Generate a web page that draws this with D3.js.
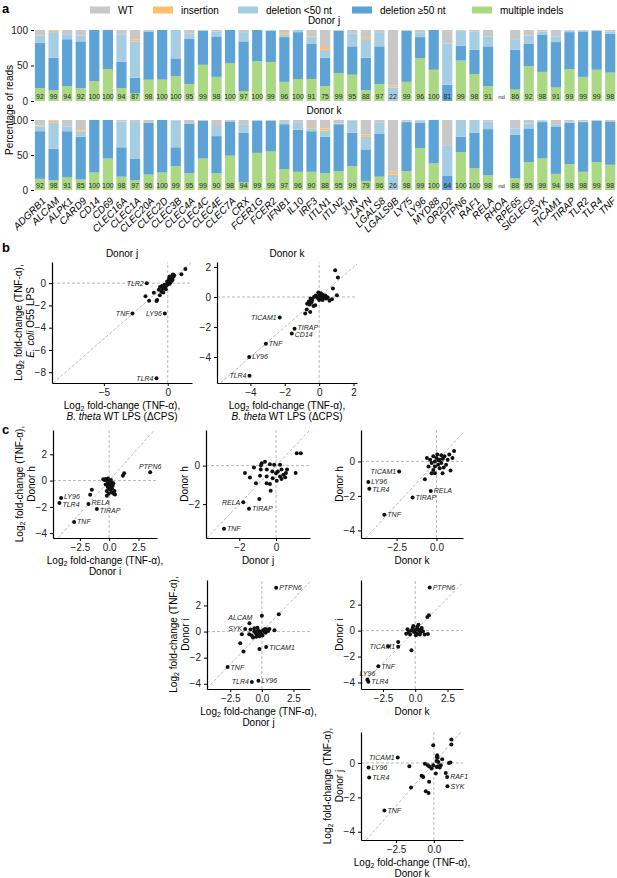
<!DOCTYPE html>
<html>
<head>
<meta charset="utf-8">
<script src="https://cdn.jsdelivr.net/npm/d3@7"></script>
<style>
  body { margin: 0; background: #fff; }
  svg { font-family: "Liberation Sans", Arial, sans-serif; }
</style>
</head>
<body>
<svg id="fig" width="617" height="878"></svg>
<script>
// ---------- panel a data ----------
const genes = ['ADGRB1','ALCAM','ALPK1','CARD9','CD14','CD69','CLEC16A','CLEC1A','CLEC20A','CLEC2D',
  'CLEC3B','CLEC4A','CLEC4C','CLEC4E','CLEC7A','CRX','FCER1G','FCER2','IFNB1','IL10',
  'IRF3','ITLN1','ITLN2','JUN','LAYN','LGALS8','LGALS9B','LY75','LY96','MYD88',
  'OR2D2','PTPN6','RAF1','RELA','RHOA','RPE65','SIGLEC8','SYK','TICAM1','TIRAP',
  'TLR2','TLR4','TNF'];
const outcomes = ['multiple indels','deletion ≥50 nt','deletion <50 nt','insertion','WT'];
const legendOrder = ['WT','insertion','deletion <50 nt','deletion ≥50 nt','multiple indels'];

// % of reads per gene: [multiple indels, deletion >=50, deletion <50, insertion, WT]
const donorJ = [
  [18,64,10,0,8],[15,46,36,2,1],[21,66,7,0,6],[18,66,8,0,8],[28,72,0,0,0],[45,55,0,0,0],
  [18,37,39,0,6],[11,22,51,3,13],[30,68,0,0,2],[30,70,0,0,0],[35,25,40,0,0],[24,64,7,0,5],
  [51,48,0,0,1],[34,57,7,0,2],[53,47,0,0,0],[14,70,13,0,3],[56,44,0,0,0],[55,44,0,0,1],
  [27,63,4,2,4],[31,66,3,0,0],[31,50,9,1,9],[21,40,11,4,24],[39,60,0,0,1],[37,40,18,0,5],
  [15,46,25,3,11],[24,53,20,0,3],[0,0,19,3,78],[27,72,0,0,1],[60,30,6,0,4],[44,56,0,0,0],
  [0,23,58,0,19],[57,21,21,0,1],[38,34,26,0,2],[21,56,14,0,9],null,[16,56,14,0,14],
  [49,32,11,0,8],[41,52,5,0,2],[19,64,8,0,9],[45,52,2,0,1],[34,64,1,0,1],[44,55,0,0,1],
  [40,55,3,0,2]];
const donorK = [
  [16,68,7,1,8],[14,45,37,3,1],[18,66,7,0,9],[15,61,7,2,15],[25,75,0,0,0],[45,55,0,0,0],
  [19,42,37,0,2],[14,31,52,0,3],[22,74,0,0,4],[25,75,0,0,0],[34,27,38,0,1],[24,71,0,0,5],
  [45,54,0,0,1],[24,53,13,0,10],[49,49,0,0,2],[11,71,12,0,6],[53,46,0,0,1],[55,44,0,0,1],
  [30,64,3,0,3],[26,60,10,0,4],[26,58,4,2,10],[24,52,9,3,12],[27,67,1,0,5],[34,48,17,0,1],
  [13,45,18,3,21],[19,61,16,0,4],[0,0,22,4,74],[27,70,1,0,2],[60,36,3,0,1],[38,62,0,0,0],
  [0,20,44,0,36],[54,22,24,0,0],[31,51,18,0,0],[21,66,11,0,2],null,[17,62,9,0,12],
  [40,48,7,0,5],[45,52,2,0,1],[23,67,4,0,6],[37,59,2,0,2],[26,71,1,0,2],[40,59,0,0,1],
  [36,62,0,0,2]];
const editedJ = [92,99,94,92,100,100,94,87,98,100,100,95,99,98,100,97,100,99,96,100,
  91,75,99,95,88,97,22,99,96,100,81,99,98,91,null,86,92,98,91,99,99,99,98];
const editedK = [92,98,91,85,100,100,98,97,96,100,99,95,99,90,98,94,99,99,97,96,
  90,88,95,99,79,96,26,98,99,100,64,100,100,98,null,88,95,99,94,98,98,99,98];

// ---------- panel b data: log2 fold-change (TNF-a) ----------
// x = B. theta WT LPS (dCPS), y = E. coli O55 LPS
const bJ = [[-1.74,-1.17],[-1.46,-1.58],[-1.09,-0.87],[-0.83,-1.52],[-0.62,-1.08],[-0.88,-1.6],
  [-0.49,-0.78],[-0.4,-0.5],[-0.35,-0.85],[-0.3,-0.4],[-0.2,-0.3],[-0.15,-0.55],[-0.1,-0.2],
  [0,-0.1],[0.05,0.1],[-0.25,-0.15],[0.1,0.25],[0.15,-0.05],[0.2,0.3],[0.25,0.45],[0.3,0.6],
  [0.35,0.5],[0.41,0.78],[0.45,0.6],[0.3,0.2],[0.1,0.4],[-0.05,0.15],[0.2,0.05],[-0.6,-0.35],
  [-0.45,-0.25],[1.07,0.81],[1.38,1.26],[0.5,0.7],[0.15,0.6],[-0.7,-0.6],[0.38,0.3]];
const bJLabels = [['TLR2',-1.64,0.0,'l'],['TNF',-2.76,-2.72,'l'],['LY96',-0.23,-2.72,'l'],['TLR4',-0.88,-8.55,'l']];
const bK = [[0.93,1.78],[1.09,1.29],[0.8,0.56],[1.03,0.11],[0.74,-0.15],[-0.33,-0.6],[-0.72,-0.84],
  [-0.81,-1.1],[-0.52,-1.0],[-0.23,-0.55],[-0.6,-0.3],[-0.5,-0.1],[-0.4,-0.2],[-0.3,0.0],[-0.2,0.1],
  [-0.1,-0.05],[0,0.1],[0.05,0.2],[0.1,-0.1],[0.15,0.05],[0.2,0.15],[0.25,-0.05],[0.3,0.05],
  [0.35,0.1],[0.4,-0.1],[0.45,0.0],[-0.05,0.3],[0.1,0.25],[0.5,-0.05],[-0.7,-0.45],[-0.55,-0.5],
  [-0.45,-0.35],[0.0,-0.2],[0.2,-0.2],[0.6,-0.25]];
const bKLabels = [['TICAM1',-2.29,-1.37,'l'],['TIRAP',-1.43,-2.11,'r'],['CD14',-1.59,-2.44,'r'],
  ['TNF',-3.1,-3.11,'r'],['LY96',-4.07,-4.0,'r'],['TLR4',-4.05,-5.24,'l']];

// ---------- panel c data: donor vs donor ----------
const hVsI = [[1.28,0.56],[1.17,0.36],[-1.48,-0.7],[-1.62,-1.08],[-0.2,-1.16],[-0.5,0.1],[-0.4,0.05],
  [-0.3,0.12],[-0.2,0.0],[-0.1,-0.1],[0,-0.2],[0.1,-0.3],[0.2,-0.15],[0.3,-0.4],[-0.1,-0.5],[0,-0.6],
  [0.1,-0.7],[-0.2,-0.8],[0.2,-0.9],[0.4,-1.0],[0.5,-1.05],[-0.05,-1.0],[0.15,0.05],[0.35,-0.2],
  [-0.3,-0.3],[0.05,-0.45],[0.25,-0.6],[-0.15,-0.35],[0.45,-0.8],[-0.1,0.15]];
const hVsILabels = [['PTPN6',3.5,0.64,'t'],['LY96',-4.1,-1.33,'r'],['TLR4',-4.24,-1.71,'r'],
  ['RELA',-1.77,-1.79,'r'],['TIRAP',-1.05,-2.17,'r'],['TNF',-2.99,-3.15,'r']];
const hVsJ = [[1.13,0.64],[1.35,0.64],[-0.78,0.12],[-0.82,0],[-0.33,0.07],[0.22,0.04],[-1.69,-0.39],
  [-1.42,-0.62],[-0.87,-0.53],[-0.51,-0.57],[1.07,-0.39],[-1.09,-0.91],[-0.83,-0.2],[-0.51,-0.91],
  [-0.33,-0.96],[-0.18,-0.65],[0.04,-0.79],[0.22,-0.57],[0.4,-0.48],[0.54,-0.39],[-0.91,-1.74],
  [-0.29,-1.3],[-0.1,0.05],[0.1,-0.3],[0.3,-0.2],[0.0,-0.4],[-0.5,-0.2],[-0.2,-0.3],[0.5,-0.6],
  [0.6,-0.2],[-1.2,-0.1],[0.3,-0.7],[-0.6,0.2]];
const hVsJLabels = [['RELA',-1.78,-1.9,'l'],['TIRAP',-1.47,-2.24,'r'],['TNF',-2.83,-3.28,'r']];
const hVsK = [[-0.31,-0.68],[-0.73,-1.03],[-0.1,-0.68],[0.38,-0.68],[0.88,-0.53],[-0.6,0.2],[-0.4,0.1],
  [-0.3,-0.1],[-0.2,0.3],[-0.1,0.0],[0,0.2],[0.1,-0.2],[0.2,0.1],[0.3,-0.1],[0.4,0.15],[0.5,0.3],
  [0.6,-0.2],[0.7,0.1],[0.8,0.4],[1.1,0.6],[0.2,-0.4],[-0.1,-0.3],[0.05,0.4],[-0.5,-0.3],[0.45,-0.35],
  [1.0,0.2],[-0.2,-0.5],[0.3,0.35],[0.15,0.05]];
const hVsKLabels = [['TICAM1',-2.34,-0.59,'l'],['LY96',-4.27,-1.2,'r'],['TLR4',-4.21,-1.59,'r'],
  ['TNF',-3.27,-3.09,'r'],['RELA',-0.36,-1.71,'r'],['TIRAP',-1.5,-2.09,'r']];
const iVsJ = [[0,1.22],[1.34,1.33],[-1.58,-0.2],[-0.19,-1.34],[-1.71,-0.89],[-1.45,-1.53],[-1.0,-0.2],
  [-0.8,-0.3],[-0.6,0.0],[-0.5,-0.1],[-0.4,-0.2],[-0.3,0.1],[-0.2,-0.1],[-0.1,0.0],[0,-0.2],[0.1,0.1],
  [0.2,0.0],[0.3,-0.1],[0.4,0.15],[0.5,0.05],[-0.7,-0.45],[-0.45,-0.4],[-0.2,-0.35],[0.05,-0.3],
  [0.25,0.2],[1.0,0.1],[-0.9,0.15],[-0.6,0.25],[-0.35,0.3],[0.6,0.2]];
const iVsJLabels = [['PTPN6',1.13,3.36,'r'],['ALCAM',-0.98,0.64,'tl'],['SYK',-1.32,0.2,'l'],
  ['TICAM1',0.34,-1.19,'r'],['TNF',-2.71,-2.72,'r'],['TLR4',-0.79,-3.86,'l'],['LY96',-0.27,-3.76,'r']];
const iVsK = [[1.06,1.18],[0.94,1.05],[-2.09,-1.21],[-0.29,-1.52],[-1.32,-0.87],[-0.6,0.1],[-0.5,-0.1],
  [-0.3,0],[-0.2,0.2],[-0.1,-0.1],[0,0.05],[0.1,-0.2],[0.2,0.1],[0.3,0],[0.4,-0.15],[0.5,0.2],
  [0.6,-0.05],[0.73,-0.3],[0.98,-0.26],[-0.4,-0.3],[0.15,0.3],[0.35,-0.3],[-0.15,0.35],[0.05,-0.35],
  [0.25,0.45],[-0.7,-0.25],[0.45,0.1]];
const iVsKLabels = [['PTPN6',1.12,3.33,'r'],['TICAM1',-1.32,-1.25,'l'],['TNF',-2.86,-2.74,'r'],
  ['LY96',-3.7,-3.77,'t'],['TLR4',-3.63,-3.95,'r']];
const jVsK = [[-0.04,1.03],[1.16,1.36],[1.16,1.07],[-1.62,-0.19],[-1.51,-1.43],[-0.59,-0.04],
  [-0.4,-0.13],[-0.3,-0.2],[-0.81,-0.75],[-0.7,-0.81],[-0.31,-1.1],[-0.53,-1.64],[-0.35,-1.74],
  [0.13,-0.61],[0.18,-0.23],[0.22,0.45],[0.2,0.35],[0.18,0.12],[0.28,-0.19],[0.39,-0.27],
  [0.55,0.21],[0.79,-0.58],[1.0,0],[1.1,0.02],[-0.04,-0.13],[-0.15,-0.32],[0.46,-0.13],[0.3,0.05],
  [0.25,0.3]];
const jVsKLabels = [['TICAM1',-2.39,0.31,'l'],['LY96',-4.32,-0.27,'r'],['TLR4',-4.28,-0.85,'r'],
  ['RAF1',0.88,-0.81,'r'],['SYK',0.9,-1.35,'r'],['TNF',-3.27,-2.76,'r']];

// ---------- drawing ----------
const svg = d3.select('#fig');
const colors = {'WT':'#c8c8c8','insertion':'#fdbf6f','deletion <50 nt':'#a6cee3',
  'deletion ≥50 nt':'#5ea3d5','multiple indels':'#abd882'};

// panel letters
[['a',13],['b',252],['c',434]].forEach(([t, yy]) => {
  svg.append('text').attr('x', 2).attr('y', yy).text(t)
    .attr('font-size', 13).attr('font-weight', 'bold');
});

// legend
const legX = [90, 153, 238, 352, 472];
legendOrder.forEach((k, i) => {
  svg.append('rect').attr('x', legX[i]).attr('y', 6.5).attr('width', 20).attr('height', 7)
    .attr('fill', colors[k]);
  svg.append('text').attr('x', legX[i] + 28).attr('y', 10).attr('dy', '0.35em')
    .attr('font-size', 10).text(k);
});

const x = d3.scaleBand().domain(genes).range([33.2, 617]).paddingInner(0.25).paddingOuter(0.125);

function barPanel(data, edited, top, bottom, title) {
  const y = d3.scaleLinear().domain([0, 100]).range([bottom, top]);
  const g = svg.append('g');
  const rows = genes.map((gn, i) => {
    const o = {gene: gn};
    outcomes.forEach((k, j) => o[k] = data[i] ? data[i][j] : 0);
    return o;
  });
  const stacked = d3.stack().keys(outcomes)(rows);
  g.selectAll('g.layer').data(stacked).join('g').attr('class', 'layer')
    .attr('fill', d => colors[d.key])
    .selectAll('rect').data(d => d).join('rect')
    .attr('x', d => x(d.data.gene))
    .attr('width', x.bandwidth())
    .attr('y', d => y(d[1]))
    .attr('height', d => y(d[0]) - y(d[1]));
  g.selectAll('text.pct').data(genes).join('text').attr('class', 'pct')
    .attr('x', d => x(d) + x.bandwidth() / 2)
    .attr('y', bottom - 4)
    .attr('text-anchor', 'middle').attr('dy', '0.35em')
    .attr('font-size', (d, i) => edited[i] == null ? 6 : 7)
    .attr('fill', '#2a2a2a')
    .text((d, i) => edited[i] == null ? 'nd' : edited[i]);
  const ax = g.append('g').attr('transform', `translate(34,0)`)
    .call(d3.axisLeft(y).tickValues([0, 50, 100]).tickSize(3));
  ax.select('.domain').remove();
  ax.selectAll('text').attr('font-size', 10).attr('fill', '#222');
  svg.append('text').attr('x', 324).attr('y', top - 6).attr('text-anchor', 'middle')
    .attr('font-size', 10).text(title);
}
barPanel(donorJ, editedJ, 30, 101, 'Donor j');
barPanel(donorK, editedK, 120, 190, 'Donor k');

svg.append('text').attr('transform', 'translate(9,110) rotate(-90)')
  .attr('text-anchor', 'middle').attr('dy', '0.35em').attr('font-size', 10).text('Percentage of reads');

svg.append('g').selectAll('text').data(genes).join('text')
  .attr('transform', d => `translate(${x(d) + x.bandwidth() / 2 + 4},199) rotate(-45)`)
  .attr('text-anchor', 'end').attr('dy', '0.35em')
  .attr('font-size', 10).attr('font-style', 'italic').text(d => d);

// ---------- scatter helpers ----------
const LOG2 = [{t: 'Log'}, {t: '2', sub: true}, {t: ' fold-change (TNF-α),'}];

function richText(sel, parts) {
  parts.forEach(p => {
    const ts = sel.append('tspan').text(p.t);
    if (p.sub) ts.attr('font-size', 7).attr('baseline-shift', '-25%');
    if (p.it) ts.attr('font-style', 'italic');
  });
}

// push apart gene labels that sit on top of each other
function declutter(nodes) {
  for (let pass = 0; pass < 4; pass++) {
    for (let i = 0; i < nodes.length; i++) {
      for (let j = i + 1; j < nodes.length; j++) {
        const a = nodes[i].getBBox(), b = nodes[j].getBBox();
        const ox = Math.min(a.x + a.width, b.x + b.width) - Math.max(a.x, b.x);
        const oy = Math.min(a.y + a.height, b.y + b.height) - Math.max(a.y, b.y);
        if (ox > 0 && oy > 0) {
          const shift = (oy + 0.4) / 2;
          const [up, dn] = a.y < b.y ? [nodes[i], nodes[j]] : [nodes[j], nodes[i]];
          up.setAttribute('y', +up.getAttribute('y') - shift);
          dn.setAttribute('y', +dn.getAttribute('y') + shift);
        }
      }
    }
  }
}

function scatter(cfg) {
  const g = svg.append('g');
  const sx = d3.scaleLinear().domain(cfg.xd).range(cfg.xr);
  const sy = d3.scaleLinear().domain(cfg.yd).range(cfg.yr);
  const dash = {stroke: '#b0b0b0', 'stroke-width': 0.9, 'stroke-dasharray': '3,2'};
  const lo = Math.max(cfg.xd[0], cfg.yd[0]), hi = Math.min(cfg.xd[1], cfg.yd[1]);
  [[sx(0), sy.range()[0], sx(0), sy.range()[1]],
   [sx.range()[0], sy(0), sx.range()[1], sy(0)],
   [sx(lo), sy(lo), sx(hi), sy(hi)]].forEach(l => {
    const ln = g.append('line').attr('x1', l[0]).attr('y1', l[1]).attr('x2', l[2]).attr('y2', l[3]);
    Object.entries(dash).forEach(([k, v]) => ln.attr(k, v));
  });
  const xa = g.append('g').attr('transform', `translate(0,${cfg.yr[0]})`)
    .call(d3.axisBottom(sx).tickValues(cfg.xt).tickFormat(d3.format(cfg.xf)).tickSize(3).tickSizeOuter(0));
  const ya = g.append('g').attr('transform', `translate(${cfg.xr[0]},0)`)
    .call(d3.axisLeft(sy).tickValues(cfg.yt).tickFormat(d3.format('d')).tickSize(3).tickSizeOuter(0));
  [xa, ya].forEach(a => {
    a.select('.domain').attr('stroke-width', 1.2);
    a.selectAll('text').attr('font-size', 10).attr('fill', '#222');
  });
  const all = cfg.pts.concat(cfg.labels.map(l => [l[1], l[2]]));
  g.selectAll('circle').data(all).join('circle')
    .attr('cx', d => sx(d[0])).attr('cy', d => sy(d[1])).attr('r', 2).attr('fill', '#111');
  const nodes = [];
  cfg.labels.forEach(([name, vx, vy, pos]) => {
    const t = g.append('text').attr('font-size', 7).attr('font-style', 'italic')
      .attr('fill', '#222').attr('dy', '0.35em').text(name);
    let px = sx(vx), py = sy(vy);
    if (pos === 'r') t.attr('x', px + 3).attr('y', py).attr('text-anchor', 'start');
    else if (pos === 'l') t.attr('x', px - 3).attr('y', py).attr('text-anchor', 'end');
    else if (pos === 't') t.attr('x', px).attr('y', py - 6).attr('text-anchor', 'middle');
    else t.attr('x', px + 3).attr('y', py - 6).attr('text-anchor', 'end');
    nodes.push(t.node());
  });
  declutter(nodes);
  const cx = (cfg.xr[0] + cfg.xr[1]) / 2, cy = (cfg.yr[0] + cfg.yr[1]) / 2;
  cfg.xTitle.forEach((parts, i) => {
    const t = g.append('text').attr('x', cx).attr('y', cfg.yr[0] + 22 + i * 11)
      .attr('text-anchor', 'middle').attr('dy', '0.35em').attr('font-size', 10);
    richText(t, parts);
  });
  const n = cfg.yTitle.length;
  cfg.yTitle.forEach((parts, i) => {
    const tx = cfg.xr[0] - 22 - (n - 1 - i) * 12;
    const t = g.append('text').attr('transform', `translate(${tx},${cy}) rotate(-90)`)
      .attr('text-anchor', 'middle').attr('dy', '0.35em').attr('font-size', 10);
    richText(t, parts);
  });
  if (cfg.title) {
    g.append('text').attr('x', cx).attr('y', cfg.yr[1] - 5).attr('text-anchor', 'middle')
      .attr('font-size', 10).text(cfg.title);
  }
}

const bX = [LOG2, [{t: 'B. theta', it: true}, {t: ' WT LPS (ΔCPS)'}]];
scatter({xr: [52, 192], yr: [383, 262], xd: [-9.06, 1.9], yd: [-8.97, 1.9],
  xt: [-5, 0], yt: [0, -2, -4, -6, -8], xf: 'd', pts: bJ, labels: bJLabels, title: 'Donor j',
  xTitle: bX, yTitle: [LOG2, [{t: 'E. coli', it: true}, {t: ' O55 LPS'}]]});
scatter({xr: [217, 357], yr: [383, 262], xd: [-5.94, 2.2], yd: [-5.73, 2.33],
  xt: [-4, -2, 0, 2], yt: [2, 0, -2, -4], xf: 'd', pts: bK, labels: bKLabels, title: 'Donor k',
  xTitle: bX, yTitle: []});

const dn = s => [{t: 'Donor ' + s}];
scatter({xr: [53, 157], yr: [538, 430], xd: [-4.79, 4.08], yd: [-4.37, 3.85],
  xt: [-2.5, 0, 2.5], yt: [2, 0, -2, -4], xf: '.1f', pts: hVsI, labels: hVsILabels,
  xTitle: [LOG2, dn('i')], yTitle: [LOG2, dn('h')]});
scatter({xr: [206, 310], yr: [538, 430], xd: [-3.81, 1.85], yd: [-3.76, 1.85],
  xt: [-2, 0], yt: [0, -2], xf: 'd', pts: hVsJ, labels: hVsJLabels,
  xTitle: [dn('j')], yTitle: [dn('h')]});
scatter({xr: [361, 463], yr: [538, 430], xd: [-4.73, 1.66], yd: [-4.44, 1.82],
  xt: [-2.5, 0], yt: [0, -2, -4], xf: '.1f', pts: hVsK, labels: hVsKLabels,
  xTitle: [dn('k')], yTitle: [dn('h')]});
scatter({xr: [207, 310], yr: [689, 580], xd: [-4.34, 3.81], yd: [-4.4, 3.95],
  xt: [-2.5, 0, 2.5], yt: [2, 0, -2, -4], xf: '.1f', pts: iVsJ, labels: iVsJLabels,
  xTitle: [LOG2, dn('j')], yTitle: [LOG2, dn('i')]});
scatter({xr: [361, 463], yr: [689, 580], xd: [-4.2, 3.7], yd: [-4.5, 3.9],
  xt: [-2.5, 0, 2.5], yt: [2, 0, -2, -4], xf: '.1f', pts: iVsK, labels: iVsKLabels,
  xTitle: [dn('k')], yTitle: [dn('i')]});
scatter({xr: [361, 463], yr: [840, 732], xd: [-4.82, 1.93], yd: [-4.48, 1.8],
  xt: [-2.5, 0], yt: [0, -2, -4], xf: '.1f', pts: jVsK, labels: jVsKLabels,
  xTitle: [LOG2, dn('k')], yTitle: [LOG2, dn('j')]});
</script>
</body>
</html>
